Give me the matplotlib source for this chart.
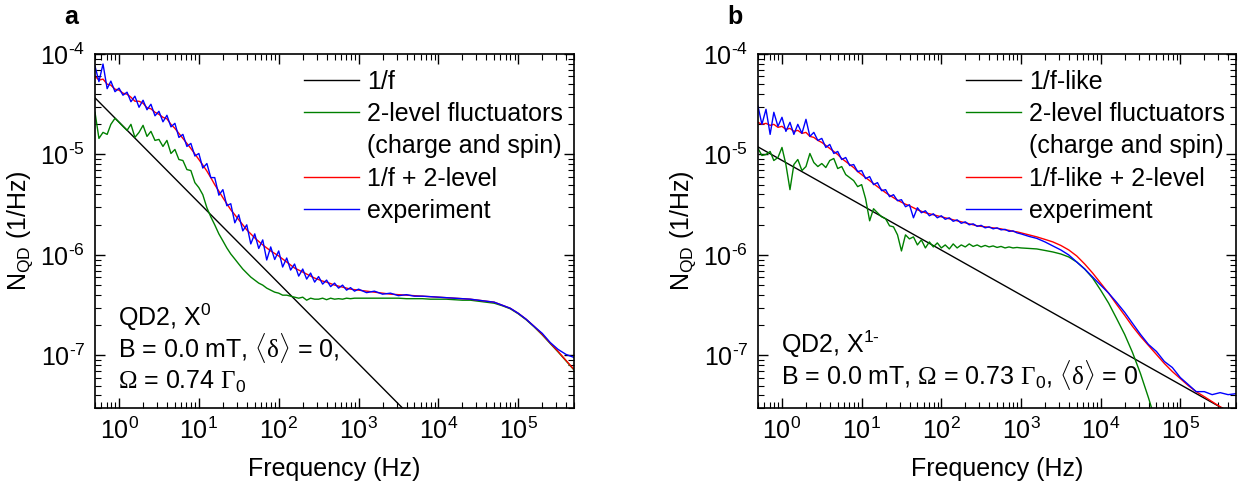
import numpy as np
import matplotlib
matplotlib.use("Agg")
import matplotlib.pyplot as plt
from matplotlib.lines import Line2D
from matplotlib.ticker import FuncFormatter

plt.rcParams["font.family"] = ["Liberation Sans", "DejaVu Sans"]
plt.rcParams["mathtext.fontset"] = "custom"
plt.rcParams["mathtext.rm"] = "Liberation Sans"
plt.rcParams["mathtext.it"] = "Liberation Sans:italic"
plt.rcParams["mathtext.bf"] = "Liberation Sans:bold"
plt.rcParams["mathtext.sf"] = "Liberation Serif"
plt.rcParams["font.size"] = 18

# frequency grid (Hz), same for both panels
freq = [0.5, 0.56, 0.63, 0.71, 0.79, 0.89,
        1.0, 1.12, 1.26, 1.41, 1.58, 1.78, 2.0, 2.24, 2.51, 2.82,
        3.16, 3.55, 3.98, 4.47, 5.01, 5.62, 6.31, 7.08, 7.94, 8.91,
        10, 11.2, 12.6, 14.1, 15.8, 17.8, 20, 22.4, 25.1, 28.2,
        31.6, 35.5, 39.8, 44.7, 50.1, 56.2, 63.1, 70.8, 79.4, 89.1,
        100, 112, 126, 141, 158, 178, 200, 224, 251, 282,
        316, 355, 398, 447, 501, 562, 631, 708, 794, 891,
        1e3, 1.26e3, 1.58e3, 2e3, 2.51e3, 3.16e3, 3.98e3, 5.01e3, 6.31e3, 7.94e3,
        1e4, 1.26e4, 1.58e4, 2e4, 2.51e4, 3.16e4, 3.98e4, 5.01e4, 6.31e4, 7.94e4,
        1e5, 1.26e5, 1.58e5, 2e5, 2.51e5, 3.16e5, 3.98e5, 5.01e5]

# panel a (X0) -- log10 of N_QD
black_a_f = [0.5, 3550]
black_a_N = [3.66e-5, 3.0e-8]

log_green_a = [-4.58, -4.84, -4.78, -4.80, -4.70, -4.64,
               -4.68, -4.72, -4.76, -4.70, -4.83, -4.78, -4.71, -4.82, -4.77, -4.86,
               -4.85, -4.92, -4.86, -4.99, -4.95, -5.05, -5.06, -5.15, -5.16, -5.28,
               -5.33, -5.40, -5.53, -5.62, -5.70, -5.79, -5.86, -5.93, -5.99, -6.04,
               -6.09, -6.14, -6.18, -6.22, -6.25, -6.28, -6.30, -6.33, -6.35, -6.37,
               -6.38, -6.40, -6.40, -6.41, -6.42, -6.43, -6.42, -6.45, -6.43, -6.44,
               -6.44, -6.43, -6.445, -6.43, -6.44, -6.435, -6.44, -6.43, -6.435, -6.43,
               -6.43, -6.43, -6.43, -6.43, -6.43, -6.43, -6.435, -6.435, -6.435, -6.44,
               -6.44, -6.44, -6.445, -6.45, -6.45, -6.46, -6.47, -6.48, -6.505, -6.535,
               -6.585, -6.645, -6.715, -6.795, -6.88, -6.965, -7.055, -7.145]

log_red_a = [-4.22, -4.26, -4.25, -4.30, -4.31, -4.35,
             -4.36, -4.39, -4.40, -4.43, -4.47, -4.47, -4.49, -4.535, -4.545, -4.58,
             -4.60, -4.63, -4.645, -4.70, -4.74, -4.79, -4.84, -4.89, -4.94, -4.995,
             -5.05, -5.105, -5.165, -5.23, -5.30, -5.365, -5.43, -5.49, -5.55, -5.60,
             -5.65, -5.70, -5.75, -5.79, -5.83, -5.865, -5.90, -5.93, -5.96, -5.985,
             -6.01, -6.04, -6.07, -6.10, -6.13, -6.15, -6.17, -6.19, -6.21, -6.23,
             -6.245, -6.26, -6.27, -6.285, -6.30, -6.31, -6.32, -6.33, -6.34, -6.345,
             -6.35, -6.36, -6.37, -6.38, -6.39, -6.395, -6.40, -6.405, -6.41, -6.415,
             -6.42, -6.425, -6.43, -6.435, -6.44, -6.45, -6.46, -6.47, -6.50, -6.53,
             -6.58, -6.64, -6.71, -6.79, -6.875, -6.96, -7.05, -7.14]

log_blue_a = [-4.12, -4.275, -4.10, -4.345, -4.27, -4.375,
              -4.34, -4.41, -4.38, -4.475, -4.42, -4.53, -4.46, -4.555, -4.50, -4.615,
              -4.57, -4.675, -4.61, -4.725, -4.69, -4.83, -4.80, -4.92, -4.89, -5.015,
              -4.99, -5.135, -5.09, -5.23, -5.23, -5.405, -5.35, -5.51, -5.49, -5.68,
              -5.60, -5.76, -5.70, -5.89, -5.79, -5.935, -5.85, -6.05, -5.92, -6.045,
              -5.96, -6.12, -6.03, -6.15, -6.09, -6.21, -6.14, -6.24, -6.18, -6.27,
              -6.215, -6.29, -6.25, -6.315, -6.28, -6.33, -6.30, -6.35, -6.325, -6.36,
              -6.34, -6.375, -6.36, -6.39, -6.38, -6.405, -6.395, -6.41, -6.41, -6.415,
              -6.42, -6.425, -6.43, -6.435, -6.44, -6.45, -6.46, -6.47, -6.50, -6.53,
              -6.58, -6.64, -6.71, -6.78, -6.87, -6.94, -6.99, -7.02]

# panel b (X1-)
black_b_f = [0.5, 5e5]
black_b_N = [1.19e-5, 2.5e-8]

log_green_b = [-4.94, -5.01, -5.00, -4.97, -5.06, -5.03,
               -4.93, -5.10, -5.35, -5.10, -5.05, -5.16, -5.12, -4.99, -5.08, -5.12,
               -5.09, -5.13, -5.06, -5.04, -5.14, -5.12, -5.20, -5.23, -5.26, -5.32,
               -5.30, -5.44, -5.66, -5.54, -5.58, -5.62, -5.64, -5.71, -5.72, -5.80,
               -5.96, -5.80, -5.84, -5.82, -5.90, -5.85, -5.93, -5.87, -5.92, -5.88,
               -5.93, -5.90, -5.94, -5.89, -5.93, -5.90, -5.92, -5.89, -5.915, -5.90,
               -5.92, -5.905, -5.92, -5.91, -5.925, -5.915, -5.93, -5.92, -5.93, -5.925,
               -5.93, -5.935, -5.94, -5.955, -5.97, -5.99, -6.02, -6.07, -6.14, -6.23,
               -6.35, -6.48, -6.63, -6.79, -6.97, -7.18, -7.42, -7.68]

log_red_b = [-4.68, -4.70, -4.69, -4.71, -4.70, -4.73,
             -4.72, -4.75, -4.74, -4.77, -4.76, -4.79, -4.78, -4.82, -4.83, -4.86,
             -4.88, -4.91, -4.94, -4.97, -5.00, -5.04, -5.07, -5.10, -5.13, -5.17,
             -5.20, -5.23, -5.26, -5.29, -5.32, -5.35, -5.38, -5.405, -5.43, -5.455,
             -5.475, -5.495, -5.51, -5.53, -5.55, -5.565, -5.58, -5.59, -5.60, -5.61,
             -5.62, -5.63, -5.64, -5.65, -5.66, -5.67, -5.68, -5.69, -5.70, -5.71,
             -5.715, -5.72, -5.725, -5.73, -5.735, -5.74, -5.75, -5.755, -5.765, -5.77,
             -5.78, -5.80, -5.82, -5.845, -5.87, -5.905, -5.95, -6.01, -6.09, -6.18,
             -6.28, -6.38, -6.49, -6.60, -6.71, -6.81, -6.90, -6.99, -7.08, -7.16,
             -7.23, -7.30, -7.36, -7.41, -7.46, -7.51, -7.555, -7.60]

log_blue_b = [-4.52, -4.70, -4.55, -4.80, -4.58, -4.72,
              -4.63, -4.77, -4.68, -4.80, -4.70, -4.79, -4.65, -4.82, -4.78, -4.86,
              -4.84, -4.93, -4.90, -4.99, -4.97, -5.05, -5.03, -5.11, -5.10, -5.17,
              -5.16, -5.24, -5.22, -5.30, -5.28, -5.36, -5.35, -5.42, -5.40, -5.46,
              -5.45, -5.52, -5.50, -5.63, -5.53, -5.58, -5.56, -5.61, -5.59, -5.63,
              -5.61, -5.645, -5.63, -5.665, -5.65, -5.685, -5.67, -5.70, -5.69, -5.715,
              -5.705, -5.73, -5.72, -5.74, -5.73, -5.75, -5.745, -5.765, -5.76, -5.78,
              -5.79, -5.815, -5.835, -5.87, -5.91, -5.95, -6.00, -6.07, -6.14, -6.22,
              -6.30, -6.38, -6.47, -6.57, -6.68, -6.79, -6.89, -6.96, -7.06, -7.12,
              -7.22, -7.29, -7.36, -7.36, -7.39, -7.37, -7.39, -7.38]

legend_a = ["1/f", "2-level fluctuators", "(charge and spin)", "1/f + 2-level", "experiment"]
legend_b = ["1/f-like", "2-level fluctuators", "(charge and spin)", "1/f-like + 2-level", "experiment"]

notes_a = [r"QD2, X$^{\mathrm{0}}$",
           r"B = 0.0 mT, $\mathsf{\langle\delta\rangle}$ = 0,",
           r"$\mathsf{\Omega}$ = 0.74 $\mathsf{\Gamma}_{\mathrm{0}}$"]
notes_b = [r"QD2, X$^{\mathrm{1}\text{-}}$",
           r"B = 0.0 mT, $\mathsf{\Omega}$ = 0.73 $\mathsf{\Gamma}_{\mathrm{0}}$, $\mathsf{\langle\delta\rangle}$ = 0"]


def pow10(v, pos):
    e = int(round(np.log10(v)))
    if e < 0:
        return r"$\mathdefault{10^{\text{-}%d}}$" % (-e)
    return r"$\mathdefault{10^{%d}}$" % e


def draw_panel(ax, black_f, black_N, log_green, log_red, log_blue, labels, notes, note_y):
    h_black, = ax.plot(black_f, black_N, color="black", lw=1.0)
    h_green, = ax.plot(freq[:len(log_green)], 10.0 ** np.array(log_green), color="#008000", lw=1.0)
    h_red, = ax.plot(freq[:len(log_red)], 10.0 ** np.array(log_red), color="#ff0000", lw=1.0)
    h_blue, = ax.plot(freq[:len(log_blue)], 10.0 ** np.array(log_blue), color="#0000ff", lw=1.0)
    ax.set_xscale("log")
    ax.set_yscale("log")
    ax.set_xlim(0.5, 5e5)
    ax.set_ylim(3e-8, 1e-4)
    ax.xaxis.set_major_formatter(FuncFormatter(pow10))
    ax.yaxis.set_major_formatter(FuncFormatter(pow10))

    blank = Line2D([], [], color="none")
    ax.legend([h_black, h_green, blank, h_red, h_blue], labels,
              loc="upper left", bbox_to_anchor=(0.436, 0.955), frameon=False,
              borderpad=0, borderaxespad=0, handlelength=2.2, handletextpad=0.32,
              labelspacing=0.33, fontsize=18)

    for txt, y in zip(notes, note_y):
        ax.text(0.048, y, txt, transform=ax.transAxes, va="baseline", ha="left", fontsize=18)

    ax.set_xlabel("Frequency (Hz)", labelpad=9)
    ax.set_ylabel(r"N$_{\mathrm{QD}}$ (1/Hz)", labelpad=4)
    ax.tick_params(which="both", direction="in", top=True, right=True)
    ax.tick_params(which="major", length=7, width=1.0, pad=7)
    ax.tick_params(which="minor", length=4, width=0.8)
    for sp in ax.spines.values():
        sp.set_linewidth(1.2)


fig = plt.figure(figsize=(12.38, 4.9), dpi=100)
ax_a = fig.add_axes([95 / 1238, 82 / 490, 479 / 1238, 354 / 490])
ax_b = fig.add_axes([758 / 1238, 82 / 490, 478 / 1238, 354 / 490])

draw_panel(ax_a, black_a_f, black_a_N, log_green_a, log_red_a, log_blue_a,
           legend_a, notes_a, [0.2316, 0.144, 0.054])
draw_panel(ax_b, black_b_f, black_b_N, log_green_b, log_red_b, log_blue_b,
           legend_b, notes_b, [0.156, 0.066])

fig.text(71 / 1238, 1 - 17 / 490, "a", fontweight="bold", fontsize=18, ha="center", va="center")
fig.text(735 / 1238, 1 - 17 / 490, "b", fontweight="bold", fontsize=18, ha="center", va="center")

fig.savefig("out.png", dpi=100)
